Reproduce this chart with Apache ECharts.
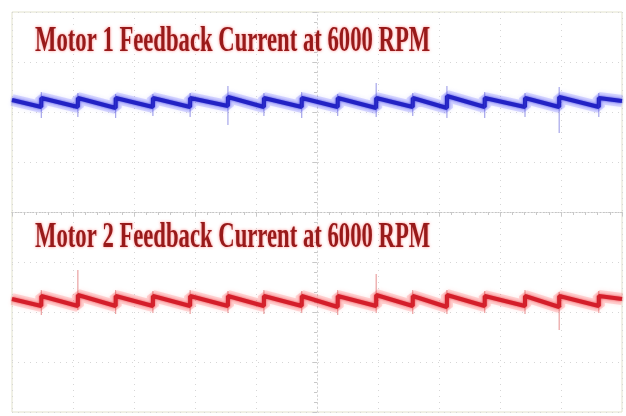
<!DOCTYPE html>
<html>
<head>
<meta charset="utf-8">
<script src="https://cdn.jsdelivr.net/npm/echarts@6/dist/echarts.min.js"></script>
<style>
html,body{margin:0;padding:0;background:#fff;}
#chart{width:626px;height:416px;}
</style>
</head>
<body>
<div id="chart"></div>
<script>
// Time (divisions from screen centre) at which each sawtooth step occurs
const jumpTimes = [-4.52, -3.92, -3.30, -2.69, -2.08, -1.46, -0.87, -0.25, 0.34, 0.97, 1.57, 2.13, 2.75, 3.41, 3.97, 4.62];

// Motor 1 trace (divisions)
const m1Start = 2.24;
const m1End = 2.22;
const m1Bottoms = [2.10, 2.10, 2.08, 2.10, 2.10, 2.12, 2.10, 2.10, 2.10, 2.08, 2.10, 2.08, 2.10, 2.10, 2.10, 2.10];
const m1Tops    = [2.28, 2.28, 2.28, 2.28, 2.28, 2.30, 2.28, 2.28, 2.28, 2.28, 2.28, 2.32, 2.28, 2.28, 2.30, 2.28];
const m1SpikeHigh = [2.40, 2.38, 2.36, 2.36, 2.38, 2.52, 2.38, 2.40, 2.36, 2.58, 2.38, 2.52, 2.40, 2.38, 2.50, 2.38];
const m1SpikeLow  = [1.88, 1.90, 1.88, 1.92, 1.90, 1.74, 1.92, 1.88, 1.92, 1.90, 1.92, 1.88, 1.88, 1.90, 1.58, 1.90];

// Motor 2 trace (divisions)
const m2Start = -1.74;
const m2End = -1.74;
const m2Bottoms = [-1.88, -1.88, -1.88, -1.88, -1.88, -1.88, -1.88, -1.88, -1.90, -1.88, -1.88, -1.90, -1.88, -1.88, -1.90, -1.88];
const m2Tops    = [-1.68, -1.66, -1.68, -1.68, -1.68, -1.68, -1.68, -1.68, -1.68, -1.66, -1.68, -1.66, -1.68, -1.68, -1.68, -1.68];
const m2SpikeHigh = [-1.56, -1.16, -1.56, -1.58, -1.56, -1.58, -1.56, -1.58, -1.56, -1.24, -1.56, -1.56, -1.58, -1.56, -1.60, -1.58];
const m2SpikeLow  = [-2.06, -1.96, -2.04, -2.02, -2.04, -2.02, -2.04, -2.02, -2.06, -2.02, -2.04, -2.04, -2.02, -2.04, -2.36, -2.02];

const titles = ['Motor 1 Feedback Current at 6000 RPM', 'Motor 2 Feedback Current at 6000 RPM'];

function traceData(start, bottoms, tops, end) {
  const d = [[-5, start]];
  jumpTimes.forEach((t, i) => { d.push([t, bottoms[i]]); d.push([t, tops[i]]); });
  d.push([5, end]);
  return d;
}
function spikeData(highs, lows) {
  const d = [];
  jumpTimes.forEach((t, i) => { d.push([t, lows[i]]); d.push([t, highs[i]]); d.push('-'); });
  return d;
}

const chart = echarts.init(document.getElementById('chart'), null, {renderer: 'canvas'});
const gridLine = {color: '#d6d6d6', type: [1, 5], width: 1};
const tickStyle = {color: '#c8c8c8', width: 1};

const option = {
  backgroundColor: '#ffffff',
  animation: false,
  grid: {left: 12, right: 4, top: 12, bottom: 4, show: true, borderColor: '#e2e2cc', borderWidth: 1},
  xAxis: [
    {type: 'value', min: -5, max: 5, interval: 1,
     axisLine: {show: true, onZero: true, lineStyle: {color: '#d2d2d2', type: [1, 3]}},
     axisTick: {show: true, length: 3, lineStyle: tickStyle},
     minorTick: {show: true, splitNumber: 5, length: 3, lineStyle: tickStyle},
     axisLabel: {show: false},
     splitLine: {show: true, lineStyle: gridLine}},
    {type: 'value', min: -5, max: 5, interval: 1, position: 'top',
     axisLine: {show: true, lineStyle: {color: '#c4c4c4', type: [1, 2]}},
     axisTick: {show: true, inside: true, length: 4, lineStyle: tickStyle},
     minorTick: {show: true, splitNumber: 5, length: 3, lineStyle: tickStyle},
     axisLabel: {show: false}, splitLine: {show: false}}
  ],
  yAxis: [
    {type: 'value', min: -4, max: 4, interval: 1,
     axisLine: {show: true, onZero: true, lineStyle: {color: '#d2d2d2', type: [1, 3]}},
     axisTick: {show: true, length: 3, lineStyle: tickStyle},
     minorTick: {show: true, splitNumber: 5, length: 3, lineStyle: tickStyle},
     axisLabel: {show: false},
     splitLine: {show: true, lineStyle: gridLine}},
    {type: 'value', min: -4, max: 4, interval: 1, position: 'right',
     axisLine: {show: false},
     axisTick: {show: true, inside: true, length: 4, lineStyle: tickStyle},
     minorTick: {show: true, splitNumber: 5, length: 2, lineStyle: tickStyle},
     axisLabel: {show: false}, splitLine: {show: false}}
  ],
  series: [
    {type: 'line', data: traceData(m1Start, m1Bottoms, m1Tops, m1End), symbol: 'none',
     lineStyle: {color: 'rgba(90,90,255,0.22)', width: 12, shadowColor: 'rgba(90,90,255,0.5)', shadowBlur: 4}, z: 2},
    {type: 'line', data: traceData(m1Start, m1Bottoms, m1Tops, m1End), symbol: 'none',
     lineStyle: {color: '#2222c4', width: 4, shadowColor: 'rgba(30,30,220,0.8)', shadowBlur: 3}, z: 3},
    {type: 'line', data: spikeData(m1SpikeHigh, m1SpikeLow), symbol: 'none', connectNulls: false,
     lineStyle: {color: 'rgba(60,60,210,0.55)', width: 1}, z: 3},
    {type: 'line', data: traceData(m2Start, m2Bottoms, m2Tops, m2End), symbol: 'none',
     lineStyle: {color: 'rgba(255,80,80,0.22)', width: 12, shadowColor: 'rgba(255,80,80,0.5)', shadowBlur: 4}, z: 2},
    {type: 'line', data: traceData(m2Start, m2Bottoms, m2Tops, m2End), symbol: 'none',
     lineStyle: {color: '#d41e2a', width: 4, shadowColor: 'rgba(230,30,40,0.8)', shadowBlur: 3}, z: 3},
    {type: 'line', data: spikeData(m2SpikeHigh, m2SpikeLow), symbol: 'none', connectNulls: false,
     lineStyle: {color: 'rgba(210,50,50,0.55)', width: 1}, z: 3}
  ],
  graphic: [
    {type: 'text', x: 35, y: 24, scaleX: 0.63, z: 10,
     style: {text: titles[0], font: 'bold 36px "Liberation Serif"', fill: '#981a1a',
             textShadowColor: 'rgba(255,40,40,0.55)', textShadowBlur: 3, verticalAlign: 'top'}},
    {type: 'text', x: 35, y: 220, scaleX: 0.63, z: 10,
     style: {text: titles[1], font: 'bold 36px "Liberation Serif"', fill: '#981a1a',
             textShadowColor: 'rgba(255,40,40,0.55)', textShadowBlur: 3, verticalAlign: 'top'}}
  ]
};
chart.setOption(option);
</script>
</body>
</html>
